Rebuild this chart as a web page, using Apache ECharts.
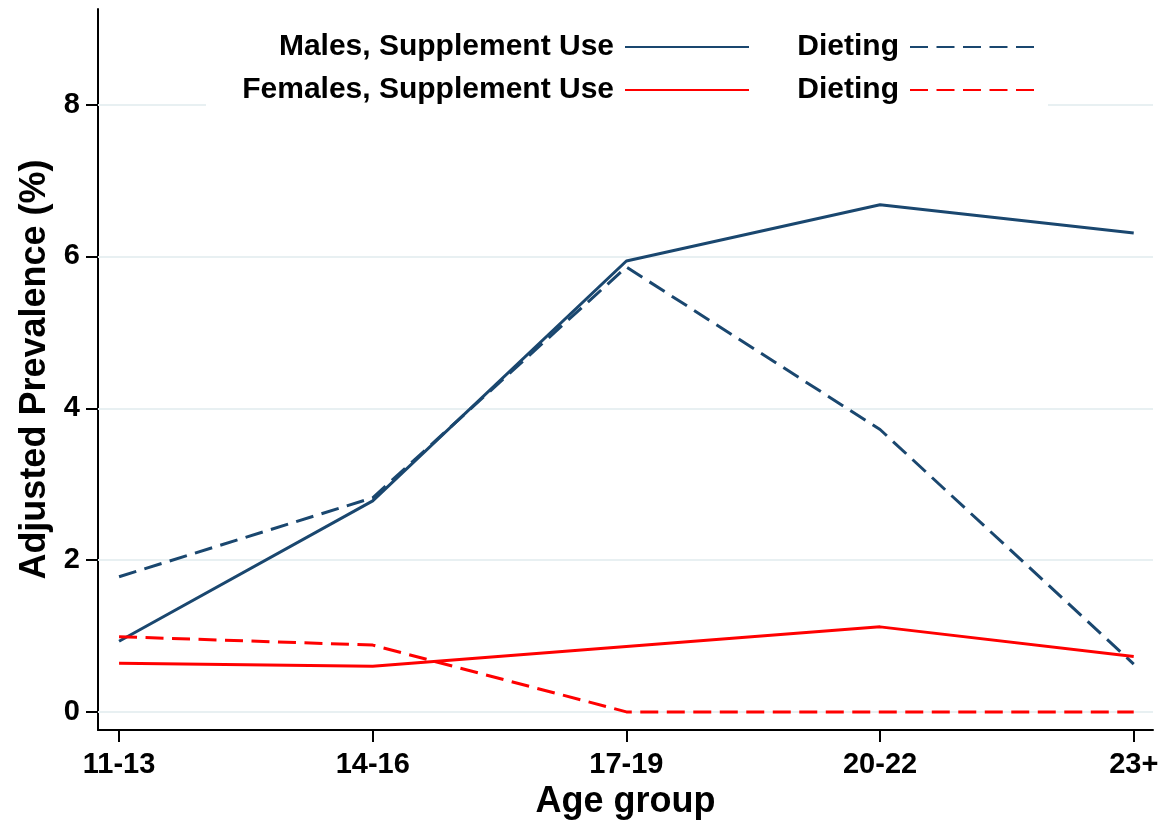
<!DOCTYPE html>
<html>
<head>
<meta charset="utf-8">
<script src="https://cdn.jsdelivr.net/npm/echarts@6/dist/echarts.min.js"></script>
<style>
html,body{margin:0;padding:0;background:#fff;}
#chart{width:1171px;height:825px;}
</style>
</head>
<body>
<div id="chart"></div>
<script>
var categories = ['11-13', '14-16', '17-19', '20-22', '23+'];
var malesSupplement = [0.93, 2.78, 5.94, 6.68, 6.31];
var malesDieting = [1.78, 2.82, 5.86, 3.72, 0.63];
var femalesSupplement = [0.64, 0.60, 0.86, 1.12, 0.73];
var femalesDieting = [0.99, 0.88, 0.0, 0.0, 0.0];
var yTicks = [0, 2, 4, 6, 8];
var xTicks = [0, 1, 2, 3, 4];

var NAVY = '#1a476f';
var RED = '#ff0000';
var FONT = '"Liberation Sans", Arial, Helvetica, sans-serif';

function pairs(arr) { return arr.map(function (v, i) { return [i, v]; }); }

var chart = echarts.init(document.getElementById('chart'), null, { renderer: 'canvas' });

function legendOf(name, right, top) {
  return {
    data: [name],
    right: right,
    top: top,
    orient: 'horizontal',
    align: 'right',
    itemWidth: 124,
    itemHeight: 14,
    padding: 0,
    selectedMode: false,
    itemStyle: { opacity: 0, borderWidth: 0 },
    formatter: function (n) { return n.indexOf('Dieting') >= 0 ? 'Dieting' : n; },
    textStyle: { fontFamily: FONT, fontSize: 30, fontWeight: 'bold', color: '#000', padding: [6, 6, 0, 0] }
  };
}

var option = {
  backgroundColor: '#fff',
  animation: false,
  grid: { left: 98, right: 18, top: 9, bottom: 93, containLabel: false },
  legend: [
    legendOf('Males, Supplement Use', 421, 32),
    legendOf('Females, Supplement Use', 421, 75),
    legendOf('Males, Dieting', 136, 32),
    legendOf('Females, Dieting', 136, 75)
  ],
  graphic: [{
    type: 'rect', z: 3, silent: true,
    shape: { x: 206, y: 18, width: 842, height: 94 },
    style: { fill: '#fff' }
  }],
  xAxis: {
    type: 'value', min: -0.083, max: 4.076,
    name: 'Age group', nameLocation: 'middle', nameGap: 51,
    nameTextStyle: { fontFamily: FONT, fontSize: 36, fontWeight: 'bold', color: '#000' },
    axisLine: { onZero: false, lineStyle: { color: '#000', width: 2 } },
    axisTick: { show: true, customValues: xTicks, length: 12, lineStyle: { color: '#000', width: 2 } },
    axisLabel: {
      customValues: xTicks, margin: 20,
      fontFamily: FONT, fontSize: 29, fontWeight: 'bold', color: '#000',
      formatter: function (v) { return categories[Math.round(v)]; }
    },
    splitLine: { show: false }
  },
  yAxis: {
    type: 'value', min: -0.24, max: 9.26,
    name: 'Adjusted Prevalence (%)', nameLocation: 'middle', nameGap: 40, nameRotate: 90,
    nameTextStyle: { fontFamily: FONT, fontSize: 36, fontWeight: 'bold', color: '#000' },
    axisLine: { onZero: false, lineStyle: { color: '#000', width: 2 } },
    axisTick: { show: true, customValues: yTicks, length: 12, lineStyle: { color: '#000', width: 2 } },
    axisLabel: {
      customValues: yTicks, margin: 18,
      fontFamily: FONT, fontSize: 29, fontWeight: 'bold', color: '#000'
    },
    splitLine: { show: false }
  },
  series: [
    {
      name: 'Males, Supplement Use', type: 'line', data: pairs(malesSupplement),
      symbol: 'none', z: 5,
      lineStyle: { color: NAVY, width: 3, type: 'solid' }, itemStyle: { color: NAVY },
      markLine: {
        silent: true, symbol: 'none', z: 1,
        label: { show: false },
        lineStyle: { color: '#e8f0f2', width: 2, type: 'solid' },
        data: yTicks.map(function (t) { return { yAxis: t }; })
      }
    },
    {
      name: 'Males, Dieting', type: 'line', data: pairs(malesDieting),
      symbol: 'none', z: 5,
      lineStyle: { color: NAVY, width: 3, type: [18, 8.5] }, itemStyle: { color: NAVY }
    },
    {
      name: 'Females, Supplement Use', type: 'line', data: pairs(femalesSupplement),
      symbol: 'none', z: 5,
      lineStyle: { color: RED, width: 3, type: 'solid' }, itemStyle: { color: RED }
    },
    {
      name: 'Females, Dieting', type: 'line', data: pairs(femalesDieting),
      symbol: 'none', z: 5,
      lineStyle: { color: RED, width: 3, type: [18, 8.5] }, itemStyle: { color: RED }
    }
  ]
};
chart.setOption(option);
</script>
</body>
</html>
